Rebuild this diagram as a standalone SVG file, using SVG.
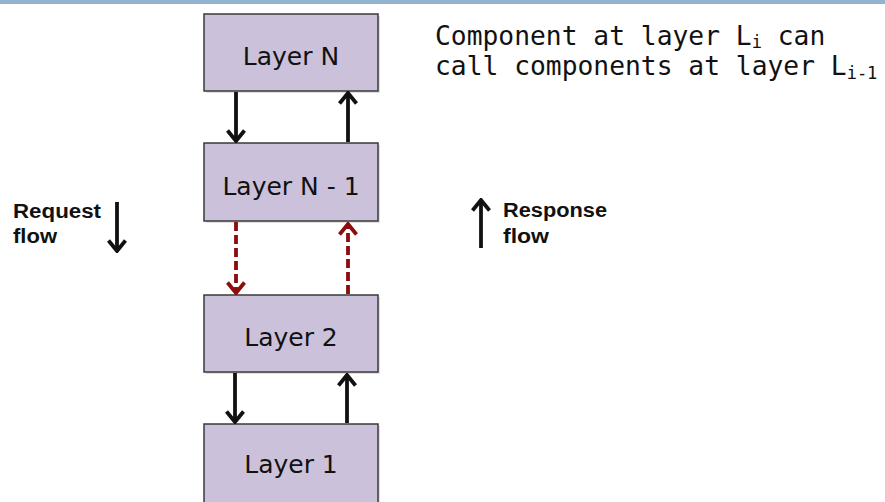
<svg xmlns="http://www.w3.org/2000/svg" width="885" height="502" viewBox="0 0 885 502">
<style>
.box{fill:#cbc1da;stroke:#3a3a3a;stroke-width:1.5}
.shadow{fill:#000;opacity:0.12}
.lbl{font-family:"DejaVu Sans","Liberation Sans",sans-serif;font-size:25px;fill:#111;text-anchor:middle}
.mono{font-family:"DejaVu Sans Mono","Liberation Mono",monospace;font-size:26.3px;fill:#111}
.sub{font-size:17px}
.hand{font-family:"Comic Sans MS","Liberation Sans",sans-serif;font-weight:bold;font-size:20px;fill:#111}
.blk{stroke:#111;stroke-width:3.8;fill:none}
.red{stroke:#8b0d0d;stroke-width:3.8;fill:none;stroke-dasharray:9 4}
</style>
<defs>
<marker id="hb" viewBox="0 0 14 20" refX="12" refY="10" markerWidth="14" markerHeight="20" markerUnits="userSpaceOnUse" orient="auto">
<path d="M1.5,1.5 L12,10 L1.5,18.5" fill="none" stroke="#111" stroke-width="3.8"/>
</marker>
<marker id="hr" viewBox="0 0 14 20" refX="12" refY="10" markerWidth="14" markerHeight="20" markerUnits="userSpaceOnUse" orient="auto">
<path d="M1.5,1.5 L12,10 L1.5,18.5" fill="none" stroke="#8b0d0d" stroke-width="3.8"/>
</marker>
</defs>
<rect x="0" y="0" width="885" height="4" fill="#93b4d1"/>
<g id="layerN">
<rect class="shadow" x="206" y="16" width="174" height="77"/>
<rect class="box" x="204" y="14" width="174" height="77"/>
<text class="lbl" x="291" y="65">Layer N</text>
</g>
<g id="layerN1">
<rect class="shadow" x="206" y="145" width="174" height="78"/>
<rect class="box" x="204" y="143" width="174" height="78"/>
<text class="lbl" x="291" y="195">Layer N - 1</text>
</g>
<g id="layer2">
<rect class="shadow" x="206" y="297" width="174" height="77"/>
<rect class="box" x="204" y="295" width="174" height="77"/>
<text class="lbl" x="291" y="346">Layer 2</text>
</g>
<g id="layer1">
<rect class="shadow" x="206" y="426" width="174" height="82"/>
<rect class="box" x="204" y="424" width="174" height="82"/>
<text class="lbl" x="291" y="473">Layer 1</text>
</g>
<g id="connectors">
<path class="blk" d="M236,92 L236,141" marker-end="url(#hb)"/>
<path class="blk" d="M348,142 L348,93" marker-end="url(#hb)"/>
<path class="red" d="M236,222 L236,293" marker-end="url(#hr)"/>
<path class="red" d="M348,294 L348,224" marker-end="url(#hr)"/>
<path class="blk" d="M235,373 L235,422" marker-end="url(#hb)"/>
<path class="blk" d="M347,423 L347,375" marker-end="url(#hb)"/>
</g>
<g id="note">
<text class="mono" x="435" y="45">Component at layer L<tspan class="sub" dy="3">i</tspan><tspan dy="-3"> can</tspan></text>
<text class="mono" x="435" y="75">call components at layer L<tspan class="sub" dy="4">i-1</tspan></text>
</g>
<g id="request">
<text class="hand" x="13" y="218" textLength="88" lengthAdjust="spacingAndGlyphs">Request</text>
<text class="hand" x="13" y="243" textLength="44" lengthAdjust="spacingAndGlyphs">flow</text>
<path class="blk" d="M117,202 L117,251" marker-end="url(#hb)"/>
</g>
<g id="response">
<text class="hand" x="503" y="217" textLength="104" lengthAdjust="spacingAndGlyphs">Response</text>
<text class="hand" x="503" y="243" textLength="46" lengthAdjust="spacingAndGlyphs">flow</text>
<path class="blk" d="M481,248 L481,200" marker-end="url(#hb)"/>
</g>
</svg>
